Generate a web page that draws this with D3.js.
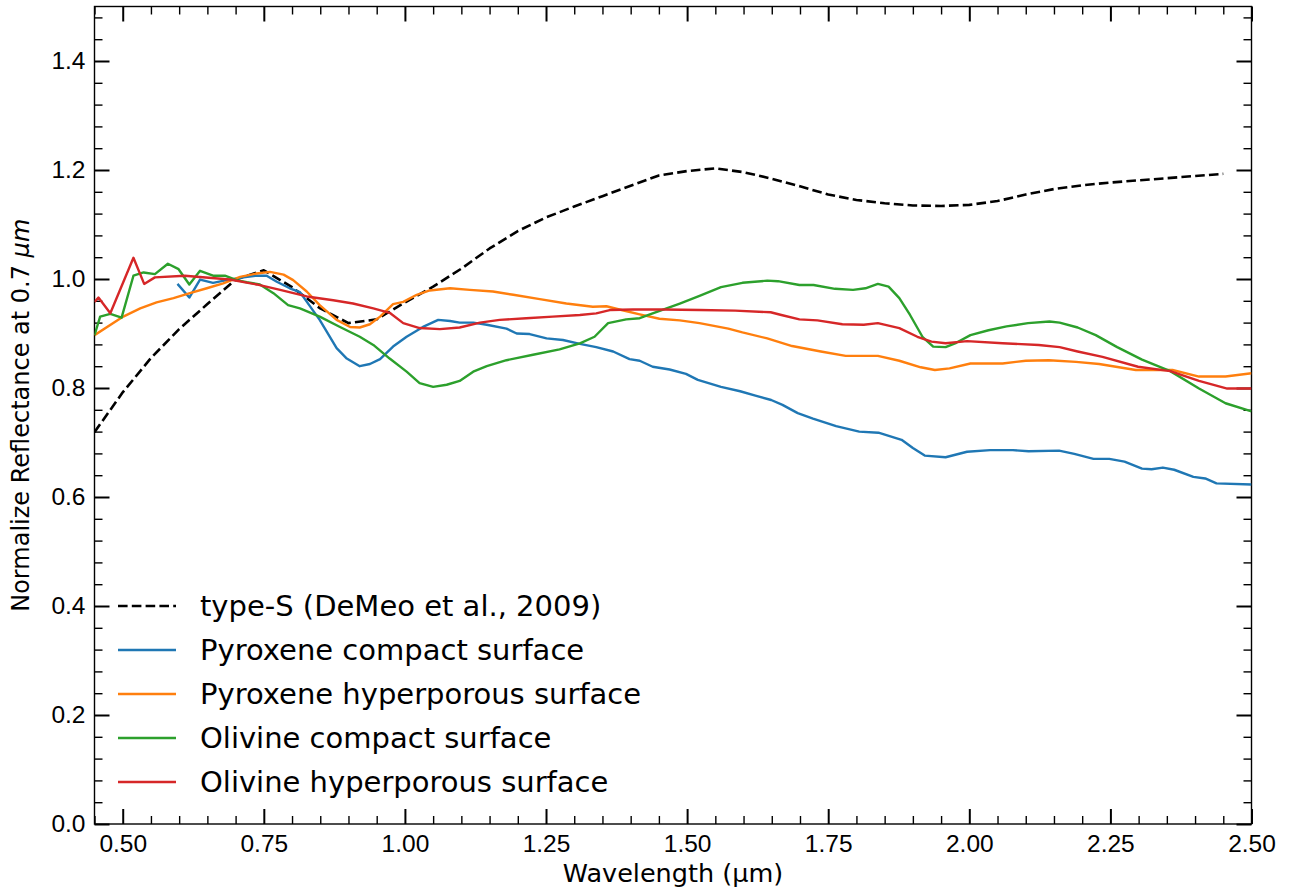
<!DOCTYPE html>
<html>
<head>
<meta charset="utf-8">
<script src="https://cdn.jsdelivr.net/npm/d3@7"></script>
<style>
  body { margin: 0; background: #fff; }
  svg { font-family: "DejaVu Sans", sans-serif; }
</style>
</head>
<body>
<div id="chart"></div>
<script>
// S-type mean spectrum (DeMeo et al. 2009)
const typeS_wl = [0.45,0.50,0.55,0.60,0.65,0.70,0.75,0.80,0.85,0.90,0.95,1.00,1.05,1.10,1.15,1.20,1.25,1.30,1.35,1.40,
                  1.45,1.50,1.55,1.60,1.65,1.70,1.75,1.80,1.85,1.90,1.95,2.00,2.05,2.10,2.15,2.20,2.25,2.30,2.35,2.40,2.45];
const typeS_val = [0.719,0.792,0.855,0.908,0.954,0.999,1.016,0.985,0.946,0.919,0.926,0.957,0.986,1.019,1.056,1.088,1.113,1.133,1.152,1.171,
                   1.190,1.198,1.203,1.196,1.184,1.170,1.155,1.145,1.139,1.135,1.134,1.136,1.143,1.155,1.165,1.172,1.177,1.181,1.185,1.189,1.193];

// lab spectra, [wavelength, reflectance]
const pyroxeneCompact = [[0.597,0.991],[0.618,0.966],[0.637,0.999],[0.66,0.993],[0.684,0.998],[0.714,1.003],[0.735,1.006],[0.755,1.006],
  [0.773,0.995],[0.796,0.983],[0.814,0.976],[0.849,0.925],[0.879,0.873],[0.897,0.854],[0.92,0.840],[0.938,0.844],[0.956,0.853],
  [0.979,0.876],[1.003,0.894],[1.032,0.912],[1.059,0.925],[1.08,0.923],[1.097,0.920],[1.121,0.920],[1.145,0.916],[1.18,0.909],
  [1.198,0.900],[1.221,0.899],[1.251,0.891],[1.28,0.888],[1.31,0.881],[1.339,0.875],[1.369,0.867],[1.398,0.853],[1.416,0.850],
  [1.439,0.839],[1.469,0.834],[1.498,0.826],[1.519,0.815],[1.56,0.802],[1.594,0.794],[1.621,0.786],[1.649,0.778],[1.669,0.769],
  [1.696,0.754],[1.723,0.744],[1.764,0.730],[1.805,0.720],[1.839,0.718],[1.88,0.705],[1.9,0.690],[1.921,0.676],[1.958,0.673],
  [1.996,0.683],[2.037,0.686],[2.077,0.686],[2.105,0.684],[2.159,0.685],[2.186,0.679],[2.22,0.670],[2.248,0.670],[2.275,0.665],
  [2.306,0.652],[2.323,0.651],[2.343,0.654],[2.363,0.650],[2.397,0.637],[2.418,0.634],[2.438,0.625],[2.5,0.623]];

const pyroxeneHyper = [[0.45,0.897],[0.501,0.931],[0.531,0.946],[0.56,0.957],[0.59,0.965],[0.619,0.974],[0.649,0.983],[0.678,0.992],
  [0.708,1.004],[0.737,1.010],[0.761,1.013],[0.785,1.008],[0.802,0.998],[0.826,0.977],[0.849,0.952],[0.879,0.925],[0.903,0.912],
  [0.92,0.911],[0.938,0.917],[0.956,0.931],[0.979,0.954],[0.997,0.958],[1.021,0.971],[1.044,0.979],[1.08,0.983],[1.115,0.980],
  [1.156,0.977],[1.192,0.971],[1.239,0.963],[1.286,0.955],[1.333,0.949],[1.357,0.950],[1.38,0.944],[1.416,0.935],[1.451,0.927],
  [1.487,0.924],[1.522,0.919],[1.573,0.909],[1.598,0.902],[1.642,0.891],[1.686,0.877],[1.737,0.867],[1.781,0.859],[1.838,0.859],
  [1.876,0.850],[1.914,0.838],[1.939,0.833],[1.965,0.836],[2.002,0.845],[2.059,0.845],[2.1,0.850],[2.141,0.851],[2.189,0.848],
  [2.23,0.844],[2.295,0.833],[2.36,0.833],[2.407,0.821],[2.454,0.821],[2.5,0.827]];

const olivineCompact = [[0.45,0.897],[0.46,0.931],[0.478,0.936],[0.498,0.929],[0.519,1.006],[0.537,1.012],[0.557,1.009],[0.58,1.028],
  [0.599,1.018],[0.618,0.990],[0.637,1.015],[0.66,1.006],[0.681,1.006],[0.702,0.998],[0.72,0.994],[0.743,0.990],[0.767,0.974],
  [0.793,0.952],[0.814,0.946],[0.849,0.931],[0.885,0.912],[0.92,0.894],[0.944,0.879],[0.973,0.854],[1.003,0.830],[1.026,0.809],
  [1.05,0.802],[1.074,0.806],[1.097,0.813],[1.121,0.830],[1.145,0.840],[1.18,0.851],[1.227,0.861],[1.274,0.871],[1.31,0.882],
  [1.336,0.894],[1.36,0.919],[1.392,0.926],[1.416,0.928],[1.439,0.937],[1.487,0.955],[1.522,0.969],[1.56,0.985],[1.598,0.993],
  [1.642,0.997],[1.661,0.996],[1.699,0.989],[1.724,0.989],[1.762,0.982],[1.794,0.980],[1.816,0.983],[1.838,0.991],[1.857,0.986],
  [1.876,0.965],[1.895,0.934],[1.917,0.894],[1.936,0.876],[1.958,0.875],[1.977,0.883],[2.002,0.897],[2.034,0.906],[2.066,0.913],
  [2.104,0.919],[2.142,0.922],[2.16,0.920],[2.192,0.911],[2.224,0.897],[2.262,0.875],[2.306,0.852],[2.356,0.831],[2.407,0.799],
  [2.454,0.772],[2.5,0.757]];

const olivineHyper = [[0.45,0.958],[0.457,0.966],[0.478,0.937],[0.519,1.039],[0.538,0.991],[0.557,1.003],[0.61,1.006],[0.69,0.999],
  [0.737,0.990],[0.779,0.980],[0.826,0.968],[0.873,0.961],[0.908,0.955],[0.944,0.946],[0.973,0.938],[0.997,0.919],[1.026,0.910],
  [1.062,0.908],[1.097,0.911],[1.133,0.920],[1.168,0.925],[1.215,0.928],[1.262,0.931],[1.31,0.934],[1.339,0.937],[1.363,0.943],
  [1.404,0.944],[1.457,0.944],[1.522,0.943],[1.585,0.942],[1.648,0.939],[1.667,0.934],[1.699,0.926],[1.731,0.924],[1.775,0.917],
  [1.813,0.916],[1.838,0.919],[1.876,0.910],[1.908,0.894],[1.933,0.885],[1.958,0.882],[1.996,0.886],[2.059,0.882],[2.123,0.879],
  [2.16,0.875],[2.192,0.867],[2.236,0.857],[2.299,0.839],[2.356,0.831],[2.407,0.813],[2.457,0.799],[2.5,0.799]];

const seriesNames = ["type-S (DeMeo et al., 2009)", "Pyroxene compact surface", "Pyroxene hyperporous surface",
                     "Olivine compact surface", "Olivine hyperporous surface"];
const seriesColors = ["#000000", "#1f77b4", "#ff7f0e", "#2ca02c", "#d62728"];

const xTicks = [0.50, 0.75, 1.00, 1.25, 1.50, 1.75, 2.00, 2.25, 2.50];
const yTicks = [0.0, 0.2, 0.4, 0.6, 0.8, 1.0, 1.2, 1.4];

let width = 1293, height = 890;
let margin = {left: 94.5, right: 41.5, top: 6.5, bottom: 66};

let svg = d3.select('#chart').append('svg')
    .attr('width', width)
    .attr('height', height);

const x = d3.scaleLinear().domain([0.45, 2.5]).range([margin.left, width - margin.right]);
const y = d3.scaleLinear().domain([0, 1.5]).range([height - margin.bottom, margin.top]);

svg.append("clipPath").attr("id", "clip")
  .append("rect")
    .attr("x", x(0.45)).attr("y", y(1.5))
    .attr("width", x(2.5) - x(0.45)).attr("height", y(0) - y(1.5));

// minor ticks
const xMinor = d3.range(0.45, 2.5001, 0.05).filter(v => !xTicks.some(t => Math.abs(t - v) < 1e-6));
const yMinor = d3.range(0, 1.5001, 0.04).filter(v => !yTicks.some(t => Math.abs(t - v) < 1e-6));

function styleAxis(g, w) {
  g.select(".domain").remove();
  g.selectAll(".tick line").attr("stroke", "#000").attr("stroke-width", w);
  g.selectAll("text").attr("fill", "#000");
}

const majorLen = 15, minorLen = 8;
const yb = y(0), yt = y(1.5), xl = x(0.45), xr = x(2.5);

// bottom
svg.append("g").attr("transform", `translate(0,${yb})`)
  .call(d3.axisBottom(x).tickValues(xMinor).tickSize(-minorLen).tickFormat(""))
  .call(g => styleAxis(g, 1.4));
svg.append("g").attr("transform", `translate(0,${yb})`)
  .call(d3.axisBottom(x).tickValues(xTicks).tickSize(-majorLen).tickPadding(11).tickFormat(d3.format(".2f")))
  .call(g => styleAxis(g, 2))
  .selectAll("text").style("font-size", "24.5px");
// top
svg.append("g").attr("transform", `translate(0,${yt})`)
  .call(d3.axisTop(x).tickValues(xMinor).tickSize(-minorLen).tickFormat(""))
  .call(g => styleAxis(g, 1.4));
svg.append("g").attr("transform", `translate(0,${yt})`)
  .call(d3.axisTop(x).tickValues(xTicks).tickSize(-majorLen).tickFormat(""))
  .call(g => styleAxis(g, 2));
// left
svg.append("g").attr("transform", `translate(${xl},0)`)
  .call(d3.axisLeft(y).tickValues(yMinor).tickSize(-minorLen).tickFormat(""))
  .call(g => styleAxis(g, 1.4));
svg.append("g").attr("transform", `translate(${xl},0)`)
  .call(d3.axisLeft(y).tickValues(yTicks).tickSize(-majorLen).tickPadding(9).tickFormat(d3.format(".1f")))
  .call(g => styleAxis(g, 2))
  .selectAll("text").style("font-size", "24.5px");
// right
svg.append("g").attr("transform", `translate(${xr},0)`)
  .call(d3.axisRight(y).tickValues(yMinor).tickSize(-minorLen).tickFormat(""))
  .call(g => styleAxis(g, 1.4));
svg.append("g").attr("transform", `translate(${xr},0)`)
  .call(d3.axisRight(y).tickValues(yTicks).tickSize(-majorLen).tickFormat(""))
  .call(g => styleAxis(g, 2));

// frame
svg.append("rect")
    .attr("x", xl).attr("y", yt)
    .attr("width", xr - xl).attr("height", yb - yt)
    .attr("fill", "none").attr("stroke", "#000").attr("stroke-width", 1.4);

// curves
const line = d3.line().x(d => x(d[0])).y(d => y(d[1]));
const typeS = typeS_wl.map((w, i) => [w, typeS_val[i]]);
const allSeries = [typeS, pyroxeneCompact, pyroxeneHyper, olivineCompact, olivineHyper];

const plot = svg.append("g").attr("clip-path", "url(#clip)");
allSeries.forEach((s, i) => {
  plot.append("path")
    .datum(s)
    .attr("d", line)
    .attr("fill", "none")
    .attr("stroke", seriesColors[i])
    .attr("stroke-width", i === 0 ? 2.6 : 2.4)
    .attr("stroke-dasharray", i === 0 ? "9.6,4.2" : null)
    .attr("stroke-linejoin", "round");
});

// legend
const legend = svg.append("g");
seriesNames.forEach((name, i) => {
  const ly = 606 + i * 44;
  legend.append("line")
    .attr("x1", 118).attr("x2", 176).attr("y1", ly).attr("y2", ly)
    .attr("stroke", seriesColors[i])
    .attr("stroke-width", i === 0 ? 2.6 : 2.4)
    .attr("stroke-dasharray", i === 0 ? "9.6,4.2" : null);
  legend.append("text")
    .attr("x", 200).attr("y", ly + 10)
    .style("font-size", "29px")
    .text(name);
});

// axis labels
svg.append("text")
    .attr("x", (xl + xr) / 2).attr("y", 882)
    .attr("text-anchor", "middle")
    .style("font-size", "25.5px")
    .text("Wavelength (µm)");

const yl = svg.append("text")
    .attr("transform", `translate(29,${(yt + yb) / 2}) rotate(-90)`)
    .attr("text-anchor", "middle")
    .style("font-size", "24px");
yl.append("tspan").text("Normalize Reflectance at 0.7 ");
yl.append("tspan").style("font-style", "italic").text("μm");
</script>
</body>
</html>
